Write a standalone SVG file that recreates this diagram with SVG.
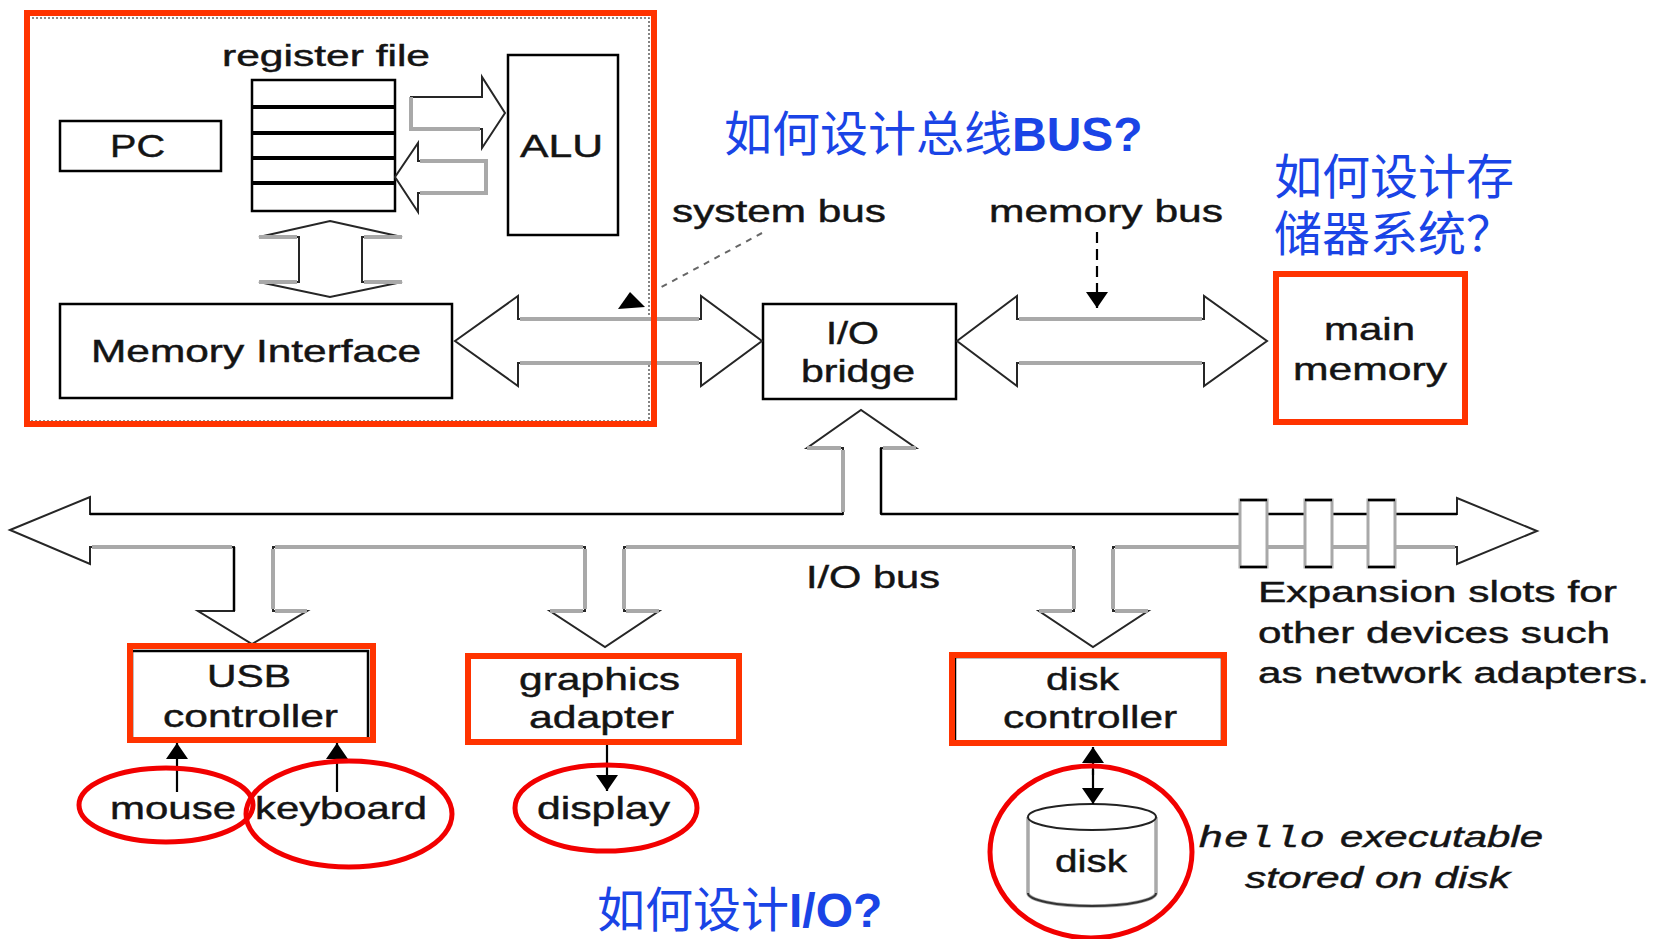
<svg xmlns="http://www.w3.org/2000/svg" width="1655" height="939" viewBox="0 0 1655 939">
<style>
  text { font-family: "Liberation Sans", Arial, sans-serif; fill: #141414; stroke: #141414; stroke-width: 0.45; font-size: 32px; }
  .sm { font-size: 30px; }
  .box { fill: #fff; stroke: #000; stroke-width: 2.5; }
  .blk { fill: #fff; stroke: #262626; stroke-width: 2; stroke-linejoin: miter; }
  .sh { fill: none; stroke: #a9a9a9; stroke-width: 4; }
  .slot { fill: #fff; stroke: #a9a9a9; stroke-width: 3; }
  .edge { fill: none; stroke: #000; stroke-width: 2.5; }
  .ptr { fill: none; stroke: #000; stroke-width: 2.2; }
  .hl { fill: none; stroke: #ff3300; stroke-width: 6; }
  .ring { fill: none; stroke: #f20000; stroke-width: 5; }
  .q { font-family: "Noto Sans CJK SC", "Liberation Sans", sans-serif; font-size: 48px; fill: #1a44e6; stroke: none; }
  .qb { font-family: "Liberation Sans", Arial, sans-serif; font-weight: bold; }
  .mono { font-family: "Liberation Mono", "Courier New", monospace; font-style: italic; }
  .it { font-style: italic; }
</style>
<defs>
  <marker id="tri" markerUnits="userSpaceOnUse" markerWidth="16" markerHeight="22" viewBox="0 0 16 22" refX="16" refY="11" orient="auto">
    <path d="M0,0 L16,11 L0,22 z" fill="#000"/>
  </marker>
</defs>

<rect width="1655" height="939" fill="#fff"/>

<!-- CPU chip boundary (dotted) -->
<rect x="28" y="18" width="621" height="403" fill="none" stroke="#666" stroke-width="1.6" stroke-dasharray="2 2"/>

<!-- ===== nodes ===== -->
<g id="register-file">
  <text class="sm" x="222" y="66" textLength="208" lengthAdjust="spacingAndGlyphs">register file</text>
  <rect class="box" x="252" y="80" width="143" height="131"/>
  <path d="M252,107 H395 M252,133 H395 M252,158 H395 M252,183 H395" stroke="#000" stroke-width="4"/>
</g>

<g id="pc">
  <rect class="box" x="60" y="121" width="161" height="50"/>
  <text x="110" y="157" textLength="55" lengthAdjust="spacingAndGlyphs">PC</text>
</g>

<g id="alu">
  <rect class="box" x="508" y="55" width="110" height="180"/>
  <text x="520" y="157" textLength="83" lengthAdjust="spacingAndGlyphs">ALU</text>
</g>

<g id="memory-interface">
  <rect class="box" x="60" y="304" width="392" height="94"/>
  <text x="91" y="362" textLength="330" lengthAdjust="spacingAndGlyphs">Memory Interface</text>
</g>

<g id="io-bridge">
  <rect class="box" x="763" y="304" width="193" height="95"/>
  <text x="826" y="344" textLength="53" lengthAdjust="spacingAndGlyphs">I/O</text>
  <text x="801" y="382" textLength="114" lengthAdjust="spacingAndGlyphs">bridge</text>
</g>

<g id="main-memory">
  <rect class="box" x="1277" y="275" width="187" height="146"/>
  <text x="1324" y="340" textLength="91" lengthAdjust="spacingAndGlyphs">main</text>
  <text x="1293" y="380" textLength="154" lengthAdjust="spacingAndGlyphs">memory</text>
</g>

<g id="usb-controller">
  <rect class="box" x="132" y="651" width="236" height="89"/>
  <text x="207" y="687" textLength="84" lengthAdjust="spacingAndGlyphs">USB</text>
  <text x="163" y="727" textLength="175" lengthAdjust="spacingAndGlyphs">controller</text>
</g>

<g id="graphics-adapter">
  <rect class="box" x="468" y="656" width="271" height="86"/>
  <text x="519" y="690" textLength="161" lengthAdjust="spacingAndGlyphs">graphics</text>
  <text x="529" y="728" textLength="145" lengthAdjust="spacingAndGlyphs">adapter</text>
</g>

<g id="disk-controller">
  <rect class="box" x="955" y="657" width="267" height="85"/>
  <text x="1046" y="690" textLength="73" lengthAdjust="spacingAndGlyphs">disk</text>
  <text x="1003" y="728" textLength="174" lengthAdjust="spacingAndGlyphs">controller</text>
</g>

<g id="mouse">
  <text x="110" y="819" textLength="126" lengthAdjust="spacingAndGlyphs">mouse</text>
</g>

<g id="keyboard">
  <text x="255" y="819" textLength="172" lengthAdjust="spacingAndGlyphs">keyboard</text>
</g>

<g id="display">
  <text x="537" y="819" textLength="133" lengthAdjust="spacingAndGlyphs">display</text>
</g>

<g id="disk">
  <path d="M1028,817 V893 A64,13 0 0 0 1156,893 V817" fill="#fff" stroke="#a9a9a9" stroke-width="3.5"/>
  <path d="M1028,893 A64,13 0 0 0 1156,893" fill="none" stroke="#333" stroke-width="2"/>
  <ellipse cx="1092" cy="817" rx="64" ry="13" fill="#fff" stroke="#222" stroke-width="2"/>
  <text x="1055" y="872" textLength="72" lengthAdjust="spacingAndGlyphs">disk</text>
</g>

<g id="hello-note">
  <text class="sm mono" x="1198" y="847" textLength="127" lengthAdjust="spacingAndGlyphs">hello</text>
  <text class="sm it" x="1340" y="847" textLength="203" lengthAdjust="spacingAndGlyphs">executable</text>
  <text class="sm it" x="1245" y="888" textLength="265" lengthAdjust="spacingAndGlyphs">stored on disk</text>
</g>

<!-- ===== connectors ===== -->
<g id="connectors">
  <!-- register file -> ALU -->
  <polygon class="blk" points="411,97 482,97 482,77 505,113 482,148 482,129 411,129"/>
  <path class="sh" d="M411,97 V129 H480"/>
  <!-- ALU -> register file -->
  <polygon class="blk" points="486,161 418,161 418,143 395,177 418,212 418,193 486,193"/>
  <path class="sh" d="M420,161 H486 V193 H420"/>
  <!-- register file <-> memory interface -->
  <polygon class="blk" points="330,221 402,237 362,237 362,282 402,282 330,297 259,282 299,282 299,237 259,237"/>
  <path class="sh" d="M259,237 H297 M364,237 H402 M259,282 H297 M364,282 H402"/>

  <!-- system bus -->
  <polygon class="blk" points="455,341 518,296 518,319 701,319 701,296 762,341 701,386 701,363 518,363 518,386"/>
  <path class="sh" d="M520,319 H699 M520,363 H699"/>
  <text x="672" y="222" textLength="214" lengthAdjust="spacingAndGlyphs">system bus</text>
  <path d="M762,233 L656,290" stroke="#666" stroke-width="2" stroke-dasharray="6 6" fill="none"/>
  <polygon points="618,309 645,307 630,292" fill="#000"/>

  <!-- memory bus -->
  <polygon class="blk" points="957,341 1017,296 1017,319 1204,319 1204,296 1267,341 1204,386 1204,363 1017,363 1017,386"/>
  <path class="sh" d="M1019,319 H1202 M1019,363 H1202"/>
  <text x="989" y="222" textLength="234" lengthAdjust="spacingAndGlyphs">memory bus</text>
  <path d="M1097,232 V308" stroke="#000" stroke-width="2.2" stroke-dasharray="11 6" fill="none" marker-end="url(#tri)"/>

  <!-- I/O bus with branches -->
  <polygon class="blk" points="10,530 90,497 90,514 843,514 843,448 807,448 861,410 916,448 881,448 881,514 1457,514 1457,498 1537,531 1457,564 1457,547 1113,547 1113,611 1148,611 1093,647 1039,611 1074,611 1074,547 624,547 624,611 659,611 605,647 550,611 585,611 585,547 273,547 273,611 307,611 252,644 198,611 234,611 234,547 90,547 90,564"/>
  <path class="edge" d="M90,514 H843 M881,514 H1457 M881,448 V514 M234,547 V611"/>
  <path class="sh" d="M92,547 H232 M275,547 H583 M626,547 H1072 M1115,547 H1455 M273,549 V609 M585,549 V609 M624,549 V609 M1074,549 V609 M1113,549 V609 M275,611 H307 M550,611 H583 M626,611 H659 M1039,611 H1072 M1115,611 H1148 M843,512 V450 M807,448 H841 M883,448 H916"/>
  <text x="806" y="588" textLength="134" lengthAdjust="spacingAndGlyphs">I/O bus</text>

  <!-- device links -->
  <path class="ptr" d="M177,792 V743" marker-end="url(#tri)"/>
  <path class="ptr" d="M337,792 V743" marker-end="url(#tri)"/>
  <path class="ptr" d="M607,742 V791" marker-end="url(#tri)"/>
  <path class="ptr" d="M1093,775 V747" marker-end="url(#tri)"/>
  <path class="ptr" d="M1093,770 V804" marker-end="url(#tri)"/>
</g>

<!-- slots sit on top of the I/O bus -->
<g id="expansion-slots">
  <rect class="slot" x="1240" y="500" width="27" height="67"/>
  <rect class="slot" x="1305" y="500" width="27" height="67"/>
  <rect class="slot" x="1368" y="500" width="27" height="67"/>
  <path class="edge" d="M1240,500 H1267 M1240,567 H1267 M1305,500 H1332 M1305,567 H1332 M1368,500 H1395 M1368,567 H1395"/>
  <text class="sm" x="1258" y="602" textLength="359" lengthAdjust="spacingAndGlyphs">Expansion slots for</text>
  <text class="sm" x="1258" y="643" textLength="352" lengthAdjust="spacingAndGlyphs">other devices such</text>
  <text class="sm" x="1258" y="683" textLength="391" lengthAdjust="spacingAndGlyphs">as network adapters.</text>
</g>

<!-- ===== emphasis marks ===== -->
<g id="marks">
  <rect class="hl" x="27" y="13" width="627" height="411"/>
  <rect class="hl" x="1276" y="274" width="189" height="148"/>
  <rect class="hl" x="130" y="646" width="243" height="94"/>
  <rect class="hl" x="468" y="656" width="271" height="86"/>
  <rect class="hl" x="952" y="655" width="272" height="88"/>
  <ellipse class="ring" cx="166" cy="805" rx="87" ry="37"/>
  <ellipse class="ring" cx="349" cy="814" rx="103" ry="53"/>
  <ellipse class="ring" cx="606" cy="808" rx="91" ry="43"/>
  <ellipse class="ring" cx="1091" cy="852" rx="101" ry="86"/>
</g>

<!-- ===== design questions ===== -->
<g id="questions">
  <text class="q" x="724" y="151">如何设计总线<tspan class="qb">BUS?</tspan></text>
  <text class="q" x="1274" y="194">如何设计存</text>
  <text class="q" x="1274" y="251">储器系统？</text>
  <text class="q" x="597" y="927">如何设计<tspan class="qb">I/O?</tspan></text>
</g>
</svg>
